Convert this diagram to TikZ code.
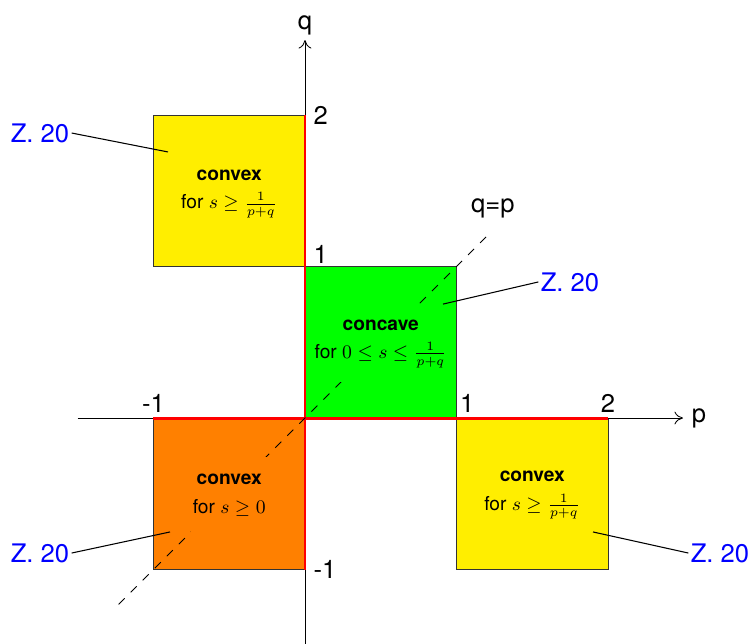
\documentclass[tikz,border=0pt]{standalone}
\usepackage{fontspec}
\setmainfont{TeX Gyre Heros}
\usetikzlibrary{arrows.meta}
\definecolor{myyellow}{HTML}{FFEE00}
\definecolor{mygreen}{HTML}{00FF00}
\definecolor{myorange}{HTML}{FF8000}
\begin{document}
\begin{tikzpicture}[x=2.5cm,y=2.5cm,
  region/.style={draw=black!80, line width=0.4pt},
  regtext/.style={align=center, font=\small, inner xsep=1pt, inner ysep=0pt, minimum height=1.25cm},
  zlabel/.style={text=blue, font=\large, inner sep=1pt},
  zline/.style={line width=0.5pt},
  axislab/.style={font=\large, inner sep=1pt},
  redline/.style={red, line width=1.4pt}]
\useasboundingbox (-2.013,-1.485) rectangle (2.957,2.759);
% regions
\fill[myyellow] (-1,1) rectangle (0,2);
\draw[region] (-1,1) rectangle (0,2);
\fill[mygreen] (0,0) rectangle (1,1);
\draw[region] (0,0) rectangle (1,1);
\fill[myorange] (-1,-1) rectangle (0,0);
\draw[region] (-1,-1) rectangle (0,0);
\fill[myyellow] (1,-1) rectangle (2,0);
\draw[region] (1,-1) rectangle (2,0);
% axes
\coordinate (xs) at (-1.5,0);
\coordinate (xe) at (2.495,0);
\coordinate (ys) at (0,-1.5);
\coordinate (ye) at (0,2.495);
\draw[-{To[length=4pt,width=6pt]}, line width=0.4pt] (xs) -- (xe);
\draw[-{To[length=4pt,width=6pt]}, line width=0.4pt] (ys) -- (ye);
\node[axislab, anchor=west, xshift=3pt] (plab) at (xe) {p};
\node[axislab, anchor=south, yshift=1pt] (qlab) at (ye) {q};
% red lines
\draw[redline] (0,-1) -- (0,2);
\draw[redline] (-1,0) -- (2,0);
% diagonal
\coordinate (d1) at (-1.23,-1.23);
\coordinate (d2) at (1.23,1.23);
\draw[dash pattern=on 4pt off 4pt, line width=0.4pt] (d1) -- (d2);
\node[axislab, anchor=south] (qp) at (1.24,1.30) {q=p};
% tick labels
\node[axislab, anchor=west] (t2q) at (0.04,2.0) {2};
\node[axislab, anchor=south west] (t1q) at (0.04,1.0) {1};
\node[axislab, anchor=west] (tm1q) at (0.04,-1.0) {-1};
\node[axislab, anchor=south] (tm1p) at (-1.0,0.02) {-1};
\node[axislab, anchor=south] (t1p) at (1.07,0.02) {1};
\node[axislab, anchor=south] (t2p) at (2.0,0.02) {2};
% region texts
\node[regtext, fill=myyellow] (r1) at (-0.5,1.48) {\textbf{convex}\\[2.3pt] for $s\geq\frac{1}{p+q}$};
\node[regtext, fill=mygreen] (r2) at (0.5,0.49) {\textbf{concave}\\[2.3pt] for $0\leq s\leq\frac{1}{p+q}$};
\node[regtext, fill=myorange] (r3) at (-0.5,-0.51) {\textbf{convex}\\[2.3pt] for $s\geq 0$};
\node[regtext, fill=myyellow] (r4) at (1.5,-0.51) {\textbf{convex}\\[2.3pt] for $s\geq\frac{1}{p+q}$};
% Z. 20 labels
\node[zlabel] (z1) at (-1.749,1.881) {Z. 20};
\node[zlabel] (z2) at (1.749,0.898) {Z. 20};
\node[zlabel] (z3) at (-1.749,-0.891) {Z. 20};
\node[zlabel] (z4) at (2.739,-0.891) {Z. 20};
\coordinate (c1) at (-0.904,1.756);
\coordinate (c2) at (0.911,0.752);
\coordinate (c3) at (-0.891,-0.752);
\coordinate (c4) at (1.901,-0.752);
\draw[zline] (z1.east) -- (c1);
\draw[zline] (z2.west) -- (c2);
\draw[zline] (z3.east) -- (c3);
\draw[zline] (z4.west) -- (c4);
\end{tikzpicture}
\end{document}
